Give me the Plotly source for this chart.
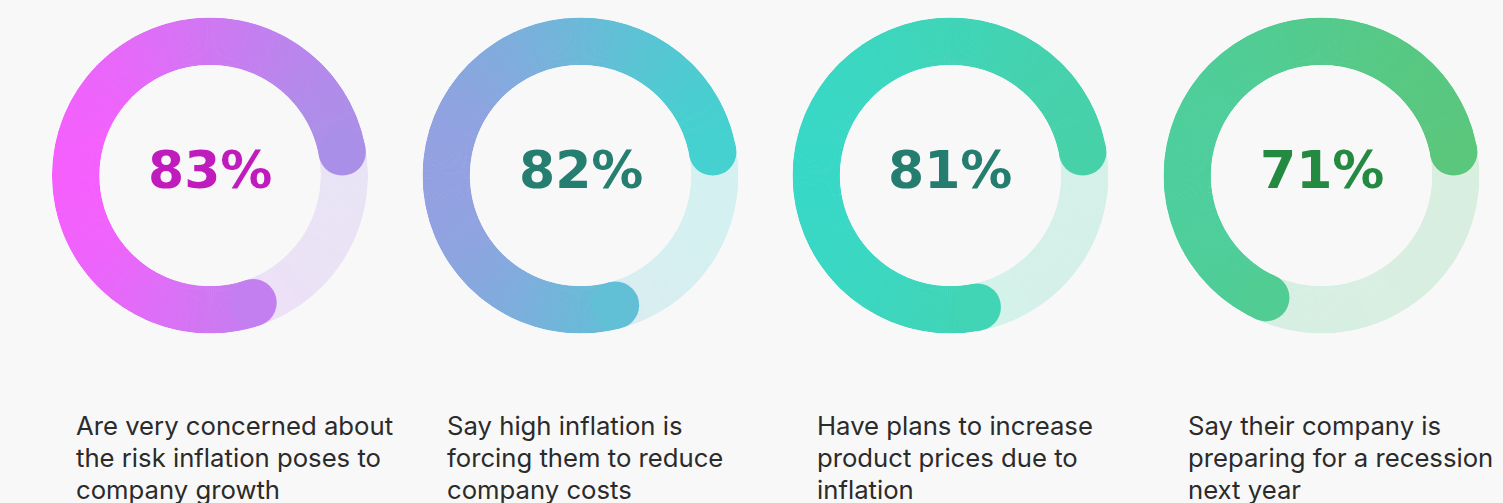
import math
import plotly.graph_objects as go

# ---------------- data ----------------
percents = [83, 82, 81, 71]
labels = [
    "Are very concerned about<br>the risk inflation poses to<br>company growth",
    "Say high inflation is<br>forcing them to reduce<br>company costs",
    "Have plans to increase<br>product prices due to<br>inflation",
    "Say their company is<br>preparing for a recession<br>next year",
]
grad_left = ["#fb5bff", "#9a9ce3", "#37d9c9", "#4ccf9f"]
grad_right = ["#a394e6", "#3cd6cd", "#48d0a6", "#5bc67a"]
text_colors = ["#c01cbd", "#257e6f", "#247d6e", "#248a42"]

# ---------------- layout constants ----------------
W, H = 1503, 503
BG = "#f8f8f8"
centers_x = [210, 580.5, 950.5, 1321.5]
center_y = 175.5
R_OUT = 158.0
HOLE = 0.70
THICK = R_OUT * (1 - HOLE)
R_MID = R_OUT * (1 + HOLE) / 2
CAP_DEG = math.degrees((THICK / 2) / R_MID)
LABEL_TOP = 408
LINE_H = 32


def hex2rgb(h):
    h = h.lstrip("#")
    return tuple(int(h[i:i + 2], 16) for i in (0, 2, 4))


def mix(c1, c2, t):
    a, b = hex2rgb(c1), hex2rgb(c2)
    return tuple(a[i] + (b[i] - a[i]) * t for i in range(3))


def rgb(c):
    return "rgb(%d,%d,%d)" % tuple(round(v) for v in c)


def grad(i, theta, rfrac):
    t = (1 + rfrac * math.cos(math.radians(theta))) / 2
    return mix(grad_left[i], grad_right[i], t)


def faded(c, a=0.2):
    b = hex2rgb(BG)
    return tuple(c[k] * a + b[k] * (1 - a) for k in range(3))


fig = go.Figure()

for i, pct in enumerate(percents):
    pname = "polar" if i == 0 else "polar%d" % (i + 1)
    sub = pname

    # track (full ring, faded gradient)
    tth = [k + 0.5 for k in range(360)]
    fig.add_trace(go.Barpolar(
        r=[1] * 360, theta=tth, width=[1.2] * 360, base=0,
        marker=dict(color=[rgb(faded(grad(i, t, 0.85))) for t in tth], line=dict(width=0)),
        subplot=sub, hoverinfo="skip", showlegend=False,
    ))

    # progress arc
    a0 = CAP_DEG
    a1 = pct / 100 * 360 - CAP_DEG
    n = max(1, math.ceil(a1 - a0))
    w = (a1 - a0) / n
    th = [a0 + (k + 0.5) * w for k in range(n)]
    fig.add_trace(go.Barpolar(
        r=[1] * n, theta=th, width=[w * 1.25] * n, base=0,
        marker=dict(color=[rgb(grad(i, t, 0.85)) for t in th], line=dict(width=0)),
        subplot=sub, hoverinfo="skip", showlegend=False,
    ))

    # rounded caps
    fig.add_trace(go.Scatterpolar(
        r=[0.5, 0.5], theta=[a0, a1], mode="markers",
        marker=dict(size=THICK, color=[rgb(grad(i, a0, 0.85)), rgb(grad(i, a1, 0.85))],
                    line=dict(width=0)),
        subplot=sub, hoverinfo="skip", showlegend=False,
    ))

    cx = centers_x[i]
    dom_x = [(cx - R_OUT) / W, (cx + R_OUT) / W]
    dom_y = [(H - center_y - R_OUT) / H, (H - center_y + R_OUT) / H]
    fig.layout[pname] = dict(
        domain=dict(x=dom_x, y=dom_y),
        hole=HOLE,
        bgcolor="rgba(0,0,0,0)",
        radialaxis=dict(visible=False, range=[0, 1]),
        angularaxis=dict(visible=False, rotation=0, direction="counterclockwise"),
        barmode="overlay",
    )

    # percentage text
    fig.add_annotation(
        x=cx / W, y=(H - 170) / H, xref="paper", yref="paper",
        text="<b>%d%%</b>" % pct, showarrow=False,
        xanchor="center", yanchor="middle",
        font=dict(family="DejaVu Sans", size=52, color=text_colors[i]),
    )

    # description label, one annotation per line for exact line spacing
    for k, line in enumerate(labels[i].split("<br>")):
        fig.add_annotation(
            x=(cx - R_OUT + 22) / W, y=(H - LABEL_TOP - k * LINE_H) / H,
            xref="paper", yref="paper",
            text=line, showarrow=False, align="left",
            xanchor="left", yanchor="top",
            font=dict(family="Inter", size=25.7, color="#2b2b2b"),
        )

fig.update_layout(
    width=W, height=H,
    margin=dict(l=0, r=0, t=0, b=0),
    paper_bgcolor=BG, plot_bgcolor=BG,
    showlegend=False,
)

fig.write_html("out.html")
